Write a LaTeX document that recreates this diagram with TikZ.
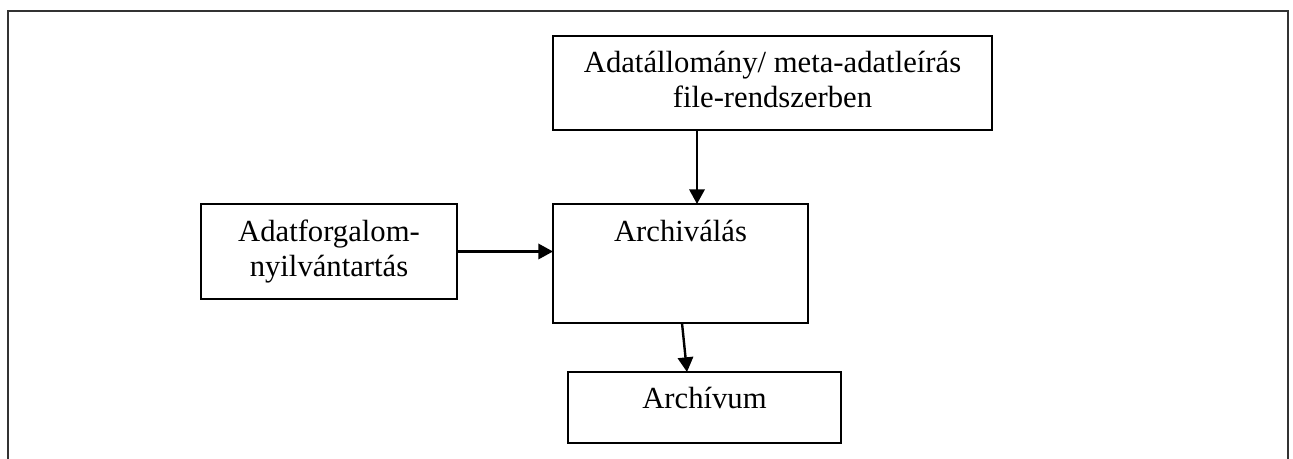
\documentclass[tikz,border=0pt]{standalone}
\usepackage{fontspec}
\setmainfont{Liberation Serif}
\usetikzlibrary{arrows.meta,fit}
\begin{document}
\begin{tikzpicture}[x=0.75pt,y=-0.75pt,
  box/.style={draw=black,line width=2.1pt,inner sep=0pt,outer sep=0pt,rectangle},
  txt/.style={font=\fontsize{23}{26.5}\selectfont,align=center,inner sep=0pt,anchor=base},
  arr/.style={line width=1.8pt,-{Triangle[length=11pt,width=11.5pt]}},
  frame/.style={draw=black!80,line width=1.8pt}]
\useasboundingbox (0,0) rectangle (1293,459);
% open frame around the page area
\draw[frame] (8,459) -- (8,11) -- (1288,11) -- (1288,459);
% boxes
\node[box,fit={(553,36) (992,130)}] (src) {};
\node[box,fit={(201,204) (457,299)}] (log) {};
\node[box,fit={(553,204) (808,323)}] (arch) {};
\node[box,fit={(568,372) (841,443)}] (store) {};
% labels
\node[txt] (srcT) at (772.5,107.5) {Adatállomány/ meta-adatleírás\\file-rendszerben};
\node[txt] (logT) at (329,277) {Adatforgalom-\\nyilvántartás};
\node[txt] (archT) at (680.5,242) {Archiválás};
\node[txt] (storeT) at (704.5,409) {Archívum};
% connectors
\coordinate (xa) at (697,0);
\coordinate (xb) at (682,0);
\coordinate (xc) at (687,0);
\draw[arr] (src.south -| xa) -- (arch.north -| xa);
\draw[arr] (log.east) -- (log.east -| arch.west);
\draw[arr] (arch.south -| xb) -- (store.north -| xc);
\end{tikzpicture}
\end{document}
